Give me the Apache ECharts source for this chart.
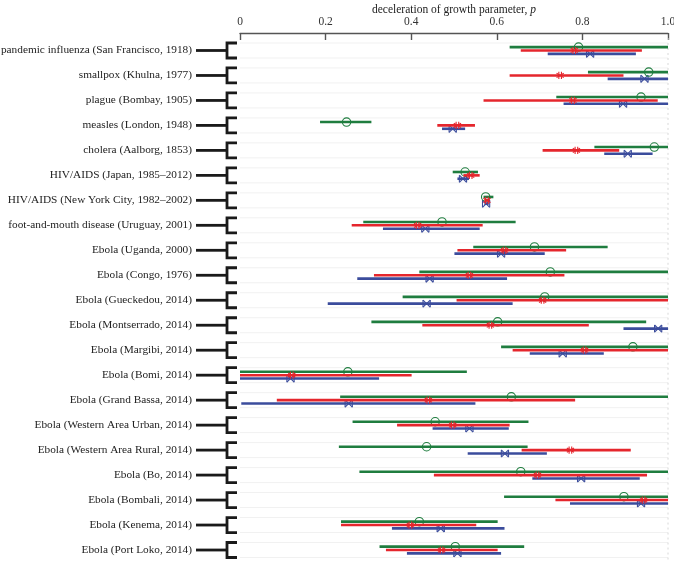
<!DOCTYPE html>
<html><head><meta charset="utf-8">
<script src="https://cdn.jsdelivr.net/npm/echarts@6/dist/echarts.min.js"></script>
<style>html,body{margin:0;padding:0;background:#fff}#c{width:674px;height:563px}</style>
</head><body><div id="c"></div>
<script>
const categories = [
  'pandemic influenza (San Francisco, 1918)',
  'smallpox (Khulna, 1977)',
  'plague (Bombay, 1905)',
  'measles (London, 1948)',
  'cholera (Aalborg, 1853)',
  'HIV/AIDS (Japan, 1985–2012)',
  'HIV/AIDS (New York City, 1982–2002)',
  'foot-and-mouth disease (Uruguay, 2001)',
  'Ebola (Uganda, 2000)',
  'Ebola (Congo, 1976)',
  'Ebola (Gueckedou, 2014)',
  'Ebola (Montserrado, 2014)',
  'Ebola (Margibi, 2014)',
  'Ebola (Bomi, 2014)',
  'Ebola (Grand Bassa, 2014)',
  'Ebola (Western Area Urban, 2014)',
  'Ebola (Western Area Rural, 2014)',
  'Ebola (Bo, 2014)',
  'Ebola (Bombali, 2014)',
  'Ebola (Kenema, 2014)',
  'Ebola (Port Loko, 2014)'
];
const xTicks = [0, 0.2, 0.4, 0.6, 0.8, 1.0];

const greenEst = [0.791,0.955,0.937,0.249,0.968,0.526,0.574,0.472,0.688,0.725,0.712,0.602,0.918,0.252,0.634,0.456,0.436,0.656,0.897,0.419,0.503];
const greenLo  = [0.630,0.813,0.739,0.187,0.828,0.497,0.569,0.288,0.545,0.419,0.380,0.307,0.610,0.000,0.234,0.263,0.231,0.279,0.617,0.236,0.326];
const greenHi  = [1.000,1.000,1.000,0.307,1.000,0.556,0.592,0.644,0.859,1.000,1.000,0.949,1.000,0.530,1.000,0.674,0.672,1.000,1.000,0.602,0.664];

const redEst = [0.781,0.748,0.778,0.508,0.786,0.539,0.577,0.415,0.618,0.536,0.707,0.585,0.805,0.121,0.440,0.497,0.772,0.695,0.943,0.398,0.471];
const redLo  = [0.656,0.630,0.569,0.461,0.707,0.522,0.571,0.261,0.508,0.313,0.506,0.426,0.637,0.000,0.086,0.367,0.658,0.453,0.737,0.236,0.341];
const redHi  = [0.939,0.896,0.976,0.549,0.886,0.560,0.583,0.567,0.762,0.758,1.000,0.815,1.000,0.401,0.783,0.630,0.913,0.951,1.000,0.552,0.602];

const blueEst = [0.818,0.945,0.895,0.497,0.906,0.521,0.575,0.433,0.610,0.443,0.436,0.977,0.754,0.118,0.254,0.536,0.619,0.797,0.937,0.469,0.508];
const blueLo  = [0.719,0.859,0.756,0.472,0.851,0.508,0.571,0.334,0.501,0.274,0.205,0.896,0.677,0.000,0.003,0.450,0.532,0.683,0.771,0.355,0.390];
const blueHi  = [0.925,1.000,1.000,0.526,0.964,0.535,0.581,0.560,0.712,0.624,0.637,1.000,0.850,0.325,0.550,0.628,0.717,0.934,1.000,0.618,0.610];

const GREEN = '#1f7d3f', RED = '#e5262d', BLUE = '#3b4c9c';
const SERIF = '"Liberation Serif","DejaVu Serif",serif';

function build(lo, est, hi) {
  return categories.map((c, i) => [i, lo[i], hi[i], est[i]]);
}

function methodRenderer(color, dyFrac, marker) {
  return function (params, api) {
    const cat = api.value(0);
    const band = api.size([0, 1])[1];
    const dy = band * dyFrac;
    const p1 = api.coord([api.value(1), cat]);
    const p2 = api.coord([api.value(2), cat]);
    const pe = api.coord([api.value(3), cat]);
    const y = p1[1] + dy;
    const children = [{
      type: 'line',
      shape: { x1: p1[0], y1: y, x2: p2[0], y2: y },
      style: { stroke: color, lineWidth: 2.6 }
    }];
    const x = pe[0], s = 3.6;
    const st = { stroke: color, lineWidth: 1.1, fill: null };
    if (marker === 'circle') {
      children.push({ type: 'circle', shape: { cx: x, cy: y, r: 4.2 }, style: { stroke: color, lineWidth: 1.1, fill: 'rgba(255,255,255,0)' } });
    } else if (marker === 'star') {
      children.push({ type: 'line', shape: { x1: x - 1.3, y1: y - s, x2: x - 1.3, y2: y + s }, style: st });
      children.push({ type: 'line', shape: { x1: x + 1.3, y1: y - s, x2: x + 1.3, y2: y + s }, style: st });
      children.push({ type: 'line', shape: { x1: x - s, y1: y - s * 0.6, x2: x + s, y2: y + s * 0.6 }, style: st });
      children.push({ type: 'line', shape: { x1: x - s, y1: y + s * 0.6, x2: x + s, y2: y - s * 0.6 }, style: st });
    } else {
      children.push({ type: 'line', shape: { x1: x - s, y1: y - s, x2: x + s, y2: y + s }, style: st });
      children.push({ type: 'line', shape: { x1: x - s, y1: y + s, x2: x + s, y2: y - s }, style: st });
      children.push({ type: 'line', shape: { x1: x - s, y1: y - s, x2: x - s, y2: y + s }, style: st });
      children.push({ type: 'line', shape: { x1: x + s, y1: y - s, x2: x + s, y2: y + s }, style: st });
    }
    return { type: 'group', children };
  };
}

function frameRenderer(params, api) {
  const cat = api.value(0);
  const band = api.size([0, 1])[1];
  const p0 = api.coord([0, cat]);
  const p1 = api.coord([1, cat]);
  const y = p0[1];
  const x0 = p0[0];
  const h = 7.5;
  const k = { stroke: '#1a1a1a', lineWidth: 2.8 };
  const children = [
    { type: 'line', shape: { x1: p0[0], y1: y - h, x2: p1[0], y2: y - h }, style: { stroke: '#f1f1f1', lineWidth: 1 }, z2: -1 },
    { type: 'line', shape: { x1: p0[0], y1: y + h, x2: p1[0], y2: y + h }, style: { stroke: '#f1f1f1', lineWidth: 1 }, z2: -1 },
    { type: 'line', shape: { x1: p1[0], y1: y - band / 2, x2: p1[0], y2: y + band / 2 }, style: { stroke: '#d8d8d8', lineWidth: 1, lineDash: [2, 3] }, z2: -1 },
    { type: 'line', shape: { x1: x0 - 44, y1: y, x2: x0 - 13, y2: y }, style: k },
    { type: 'polyline', shape: { points: [[x0 - 3, y - h], [x0 - 13, y - h], [x0 - 13, y + h], [x0 - 3, y + h]] }, style: { stroke: '#1a1a1a', lineWidth: 2.8, fill: null } }
  ];
  return { type: 'group', children };
}

const chart = echarts.init(document.getElementById('c'), null, { renderer: 'canvas' });
chart.setOption({
  animation: false,
  backgroundColor: '#fff',
  grid: { left: 240, right: 6, top: 38, bottom: 0.5, containLabel: false, outerBoundsMode: 'none' },
  xAxis: {
    type: 'value', position: 'top', min: 0, max: 1, interval: 0.2, offset: 5,
    name: '{a|deceleration of growth parameter, }{i|p}',
    nameLocation: 'middle', nameGap: 17, nameMoveOverlap: false,
    nameTextStyle: { rich: { a: { fontFamily: SERIF, fontSize: 11.5, color: '#222' }, i: { fontFamily: SERIF, fontSize: 11.5, fontStyle: 'italic', color: '#222' } } },
    axisLine: { show: true, lineStyle: { color: '#555', width: 1.4 } },
    axisTick: { show: true, inside: true, length: 7, lineStyle: { color: '#555', width: 1.4 } },
    axisLabel: { fontFamily: SERIF, fontSize: 11.5, color: '#333', margin: 5,
      formatter: v => { const i = xTicks.findIndex(t => Math.abs(t - v) < 1e-9); return i === 0 ? '0' : xTicks[i].toFixed(1); } },
    splitLine: { show: false }
  },
  yAxis: {
    type: 'category', data: categories, inverse: true,
    axisLine: { show: false }, axisTick: { show: false }, splitLine: { show: false },
    axisLabel: { fontFamily: SERIF, fontSize: 11.3, color: '#222', margin: 48 }
  },
  series: [
    { type: 'custom', clip: false, silent: true, renderItem: frameRenderer, data: categories.map((c, i) => [i]), encode: { y: 0 }, z: 1 },
    { type: 'custom', clip: false, silent: true, renderItem: methodRenderer(GREEN, -0.135, 'circle'), data: build(greenLo, greenEst, greenHi), encode: { y: 0, x: [1, 2] }, z: 3 },
    { type: 'custom', clip: false, silent: true, renderItem: methodRenderer(RED, 0.0, 'star'), data: build(redLo, redEst, redHi), encode: { y: 0, x: [1, 2] }, z: 4 },
    { type: 'custom', clip: false, silent: true, renderItem: methodRenderer(BLUE, 0.135, 'x'), data: build(blueLo, blueEst, blueHi), encode: { y: 0, x: [1, 2] }, z: 2 }
  ]
});
</script></body></html>
